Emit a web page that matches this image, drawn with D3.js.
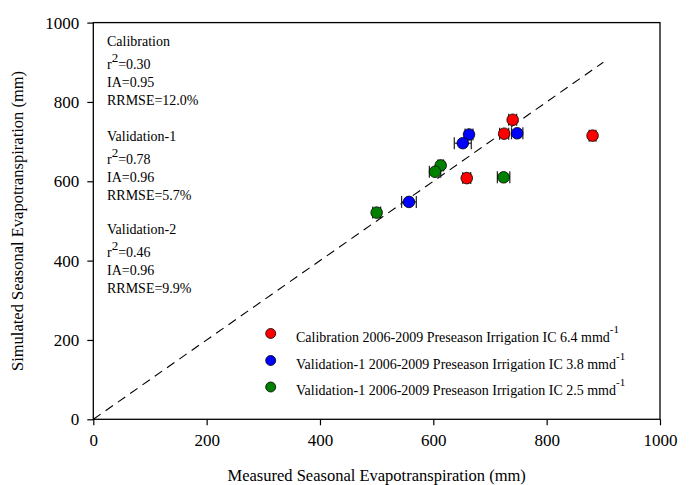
<!DOCTYPE html>
<html>
<head>
<meta charset="utf-8">
<script src="https://cdn.jsdelivr.net/npm/d3@7"></script>
<style>
  body { margin: 0; background: #fff; }
  svg text { font-family: "Liberation Serif", "Times New Roman", "DejaVu Serif", serif; }
</style>
</head>
<body>
<svg id="chart" width="692" height="485"></svg>
<script>
// measured (x), simulated (y), error on measured (xErr) in mm
var calX = [740, 725, 881, 659]
var calY = [755, 720, 715, 608]
var calErr = [7, 8, 6, 7]

var val1X = [748, 663, 652, 557]
var val1Y = [721, 718, 696, 548]
var val1Err = [10, 7, 15, 13]

var val2X = [613, 603, 724, 500]
var val2Y = [640, 624, 610, 521]
var val2Err = [5, 10, 11, 7]

var tickValues = [0, 200, 400, 600, 800, 1000]
var oneToOne = [0, 900]

var seriesNames = [
    "Calibration 2006-2009 Preseason Irrigation IC 6.4 mmd",
    "Validation-1 2006-2009 Preseason Irrigation IC 3.8 mmd",
    "Validation-1 2006-2009 Preseason Irrigation IC 2.5 mmd"
]
var seriesColors = ["#ff0000", "#0000ff", "#008000"]

var statBlocks = [
    { title: "Calibration", r2: "=0.30", ia: "IA=0.95", rrmse: "RRMSE=12.0%" },
    { title: "Validation-1", r2: "=0.78", ia: "IA=0.96", rrmse: "RRMSE=5.7%" },
    { title: "Validation-2", r2: "=0.46", ia: "IA=0.96", rrmse: "RRMSE=9.9%" }
]

var serif = '"Liberation Serif", "Times New Roman", serif'

var dimensions = {
    width: 692,
    height: 485,
    margin: { top: 22.6, bottom: 65.7, left: 93.3, right: 32 }
}

var svg = d3.select("#chart")

var xScale = d3.scaleLinear()
               .domain([0, 1000])
               .range([dimensions.margin.left, dimensions.width - dimensions.margin.right])

var yScale = d3.scaleLinear()
               .domain([0, 1000])
               .range([dimensions.height - dimensions.margin.bottom, dimensions.margin.top])

// frame
svg.append("rect")
   .attr("x", xScale(0))
   .attr("y", yScale(1000))
   .attr("width", xScale(1000) - xScale(0))
   .attr("height", yScale(0) - yScale(1000))
   .attr("fill", "none")
   .attr("stroke", "black")
   .attr("stroke-width", 1.3)

var xAxisGen = d3.axisBottom(xScale).tickValues(tickValues).tickFormat(d3.format("d")).tickSize(6).tickPadding(9)
var xAxis = svg.append("g")
               .attr("transform", `translate(0,${yScale(0)})`)
               .call(xAxisGen)
               .attr("font-family", serif)
xAxis.select(".domain").remove()
xAxis.selectAll("line").attr("stroke-width", 1.2)
xAxis.selectAll("text").style("font-size", "17px").attr("fill", "black")

var yAxisGen = d3.axisLeft(yScale).tickValues(tickValues).tickFormat(d3.format("d")).tickSize(6).tickPadding(8)
var yAxis = svg.append("g")
               .attr("transform", `translate(${xScale(0)},0)`)
               .call(yAxisGen)
               .attr("font-family", serif)
yAxis.select(".domain").remove()
yAxis.selectAll("line").attr("stroke-width", 1.2)
yAxis.selectAll("text").style("font-size", "17px").attr("fill", "black")

// 1:1 line
svg.append("line")
   .attr("x1", xScale(oneToOne[0]))
   .attr("y1", yScale(oneToOne[0]))
   .attr("x2", xScale(oneToOne[1]))
   .attr("y2", yScale(oneToOne[1]))
   .attr("stroke", "black")
   .attr("stroke-width", 1.1)
   .attr("stroke-dasharray", "9,6")

var series = [
    { xs: calX, ys: calY, errs: calErr, color: seriesColors[0] },
    { xs: val1X, ys: val1Y, errs: val1Err, color: seriesColors[1] },
    { xs: val2X, ys: val2Y, errs: val2Err, color: seriesColors[2] }
]

series.forEach(function(s) {
    var pts = s.xs.map((x, i) => ({ x: x, y: s.ys[i], e: s.errs[i] }))
    var g = svg.append("g")
    var bars = g.selectAll("g.err").data(pts).enter().append("g").attr("class", "err")
    bars.append("line")
        .attr("x1", d => xScale(d.x - d.e)).attr("x2", d => xScale(d.x + d.e))
        .attr("y1", d => yScale(d.y)).attr("y2", d => yScale(d.y))
        .attr("stroke", "#222").attr("stroke-width", 1.2)
    bars.append("line")
        .attr("x1", d => xScale(d.x - d.e)).attr("x2", d => xScale(d.x - d.e))
        .attr("y1", d => yScale(d.y) - 6).attr("y2", d => yScale(d.y) + 6)
        .attr("stroke", "#222").attr("stroke-width", 1.2)
    bars.append("line")
        .attr("x1", d => xScale(d.x + d.e)).attr("x2", d => xScale(d.x + d.e))
        .attr("y1", d => yScale(d.y) - 6).attr("y2", d => yScale(d.y) + 6)
        .attr("stroke", "#222").attr("stroke-width", 1.2)
    g.selectAll("circle").data(pts).enter().append("circle")
        .attr("cx", d => xScale(d.x))
        .attr("cy", d => yScale(d.y))
        .attr("r", 5.8)
        .attr("fill", s.color)
        .attr("stroke", "black")
        .attr("stroke-width", 0.8)
})

// statistics text
var blockTops = [46, 141, 234]
statBlocks.forEach(function(b, i) {
    var y0 = blockTops[i]
    var g = svg.append("g").attr("transform", `translate(107,0)`)
               .style("font-size", "14px").attr("font-family", serif)
    g.append("text").attr("y", y0).text(b.title)
    var r = g.append("text").attr("y", y0 + 23)
    r.append("tspan").text("r")
    r.append("tspan").attr("dy", -7).style("font-size", "13px").text("2")
    r.append("tspan").attr("dy", 7).text(b.r2)
    g.append("text").attr("y", y0 + 41).text(b.ia)
    g.append("text").attr("y", y0 + 59).text(b.rrmse)
})

// legend
var legendY = [333.5, 360.5, 387]
var legend = svg.append("g").attr("font-family", serif)
seriesNames.forEach(function(name, i) {
    legend.append("circle")
          .attr("cx", 270.7).attr("cy", legendY[i]).attr("r", 5)
          .attr("fill", seriesColors[i]).attr("stroke", "black").attr("stroke-width", 0.8)
    var t = legend.append("text")
          .attr("x", 296).attr("y", legendY[i] + 8)
          .style("font-size", "14px")
    t.append("tspan").text(name)
    t.append("tspan").attr("dy", -9).style("font-size", "11px").text("-1")
})

// axis titles
svg.append("text")
   .attr("x", (xScale(0) + xScale(1000)) / 2)
   .attr("y", 481)
   .attr("text-anchor", "middle")
   .attr("font-family", serif)
   .style("font-size", "16.5px")
   .text("Measured Seasonal Evapotranspiration (mm)")

svg.append("text")
   .attr("transform", `translate(23,${(yScale(0) + yScale(1000)) / 2}) rotate(-90)`)
   .attr("text-anchor", "middle")
   .attr("font-family", serif)
   .style("font-size", "16.5px")
   .text("Simulated Seasonal Evapotranspiration (mm)")
</script>
</body>
</html>
